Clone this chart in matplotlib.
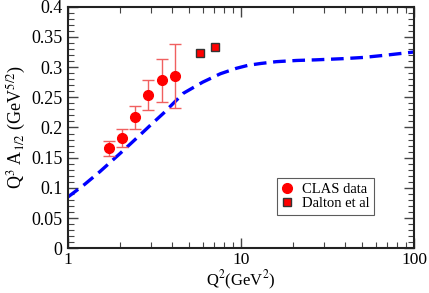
import matplotlib
matplotlib.use("Agg")
import matplotlib.pyplot as plt
from matplotlib.ticker import FixedLocator, FixedFormatter, LogLocator, NullFormatter, MultipleLocator

plt.rcParams['font.family'] = ['Liberation Serif', 'DejaVu Serif']
plt.rcParams['mathtext.fontset'] = 'stix'

# CLAS data
clas_q2 = [1.73, 2.06, 2.44, 2.91, 3.49, 4.15]
clas_val = [0.166, 0.183, 0.217, 0.254, 0.278, 0.285]
clas_lo = [0.153, 0.167, 0.198, 0.229, 0.243, 0.233]
clas_hi = [0.178, 0.198, 0.236, 0.278, 0.313, 0.338]

# Dalton et al
dalton_q2 = [5.82, 7.07]
dalton_val = [0.323, 0.333]

# model curve
curve_q2 = [1, 1.25, 1.53, 2.0, 2.55, 3.0, 3.56, 4.64, 6.0, 7.6, 9.4,
            11.0, 13.0, 16, 21, 27, 39, 51, 70, 100]
curve_val = [0.085, 0.106, 0.127, 0.157, 0.185, 0.204, 0.2235, 0.2566, 0.275,
             0.289, 0.298, 0.303, 0.306, 0.309, 0.311, 0.312, 0.314, 0.316,
             0.320, 0.325]

y_ticks = [0, 0.05, 0.1, 0.15, 0.2, 0.25, 0.3, 0.35, 0.4]
y_labels = ['0', '0.05', '0.1', '0.15', '0.2', '0.25', '0.3', '0.35', '0.4']

fig = plt.figure(figsize=(4.29, 2.93), dpi=100)
ax = fig.add_axes([0.1585, 0.1526, 0.8065, 0.8245])

ax.plot(curve_q2, curve_val, color='#0000ff', lw=2.4, dashes=(3.8, 2.0))

yerr = [[v - l for v, l in zip(clas_val, clas_lo)],
        [h - v for v, h in zip(clas_val, clas_hi)]]
ax.errorbar(clas_q2, clas_val, yerr=yerr, fmt='none', ecolor='#f06060',
            elinewidth=1.0, capsize=4, capthick=1.0)
ax.plot(clas_q2, clas_val, 'o', color='#ff0000', ms=7, mec='#ff0000',
        label='CLAS data')
ax.plot(dalton_q2, dalton_val, 's', color='#ff0000', ms=6, mec='#333333',
        mew=1.0, label='Dalton et al')

ax.set_xscale('log')
ax.set_xlim(1, 100)
ax.set_ylim(0, 0.4)

ax.xaxis.set_major_locator(FixedLocator([1, 10, 100]))
ax.xaxis.set_major_formatter(FixedFormatter(['1', '10', '100']))
ax.xaxis.set_minor_locator(LogLocator(base=10, subs=range(2, 10)))
ax.xaxis.set_minor_formatter(NullFormatter())
ax.yaxis.set_major_locator(FixedLocator(y_ticks))
ax.yaxis.set_major_formatter(FixedFormatter(y_labels))
ax.yaxis.set_minor_locator(MultipleLocator(0.01))

ax.tick_params(which='both', direction='in', top=True, right=True,
               labelsize=13, color='#444444')
ax.tick_params(which='major', length=7, width=1.0, pad=4)
ax.tick_params(which='minor', length=4, width=0.8)
ax.tick_params(axis='x', which='major', pad=3, labelsize=12.5)

for s in ax.spines.values():
    s.set_linewidth(1.5)
    s.set_color('#222222')

ax.set_xlabel(r'Q$^2$(GeV$^2$)', fontsize=12, labelpad=0)
ax.set_ylabel(r'Q$^3$ A$_{1/2}$ (GeV$^{5/2}$)', fontsize=13, labelpad=2)

leg = ax.legend(loc='upper left', bbox_to_anchor=(0.604, 0.29), fontsize=10.5,
                frameon=True, fancybox=False, edgecolor='#333333',
                handlelength=0.8, handletextpad=0.6, borderpad=0.3,
                labelspacing=0.1, borderaxespad=0)
leg.get_frame().set_linewidth(0.8)

fig.savefig('out.png', dpi=100)
